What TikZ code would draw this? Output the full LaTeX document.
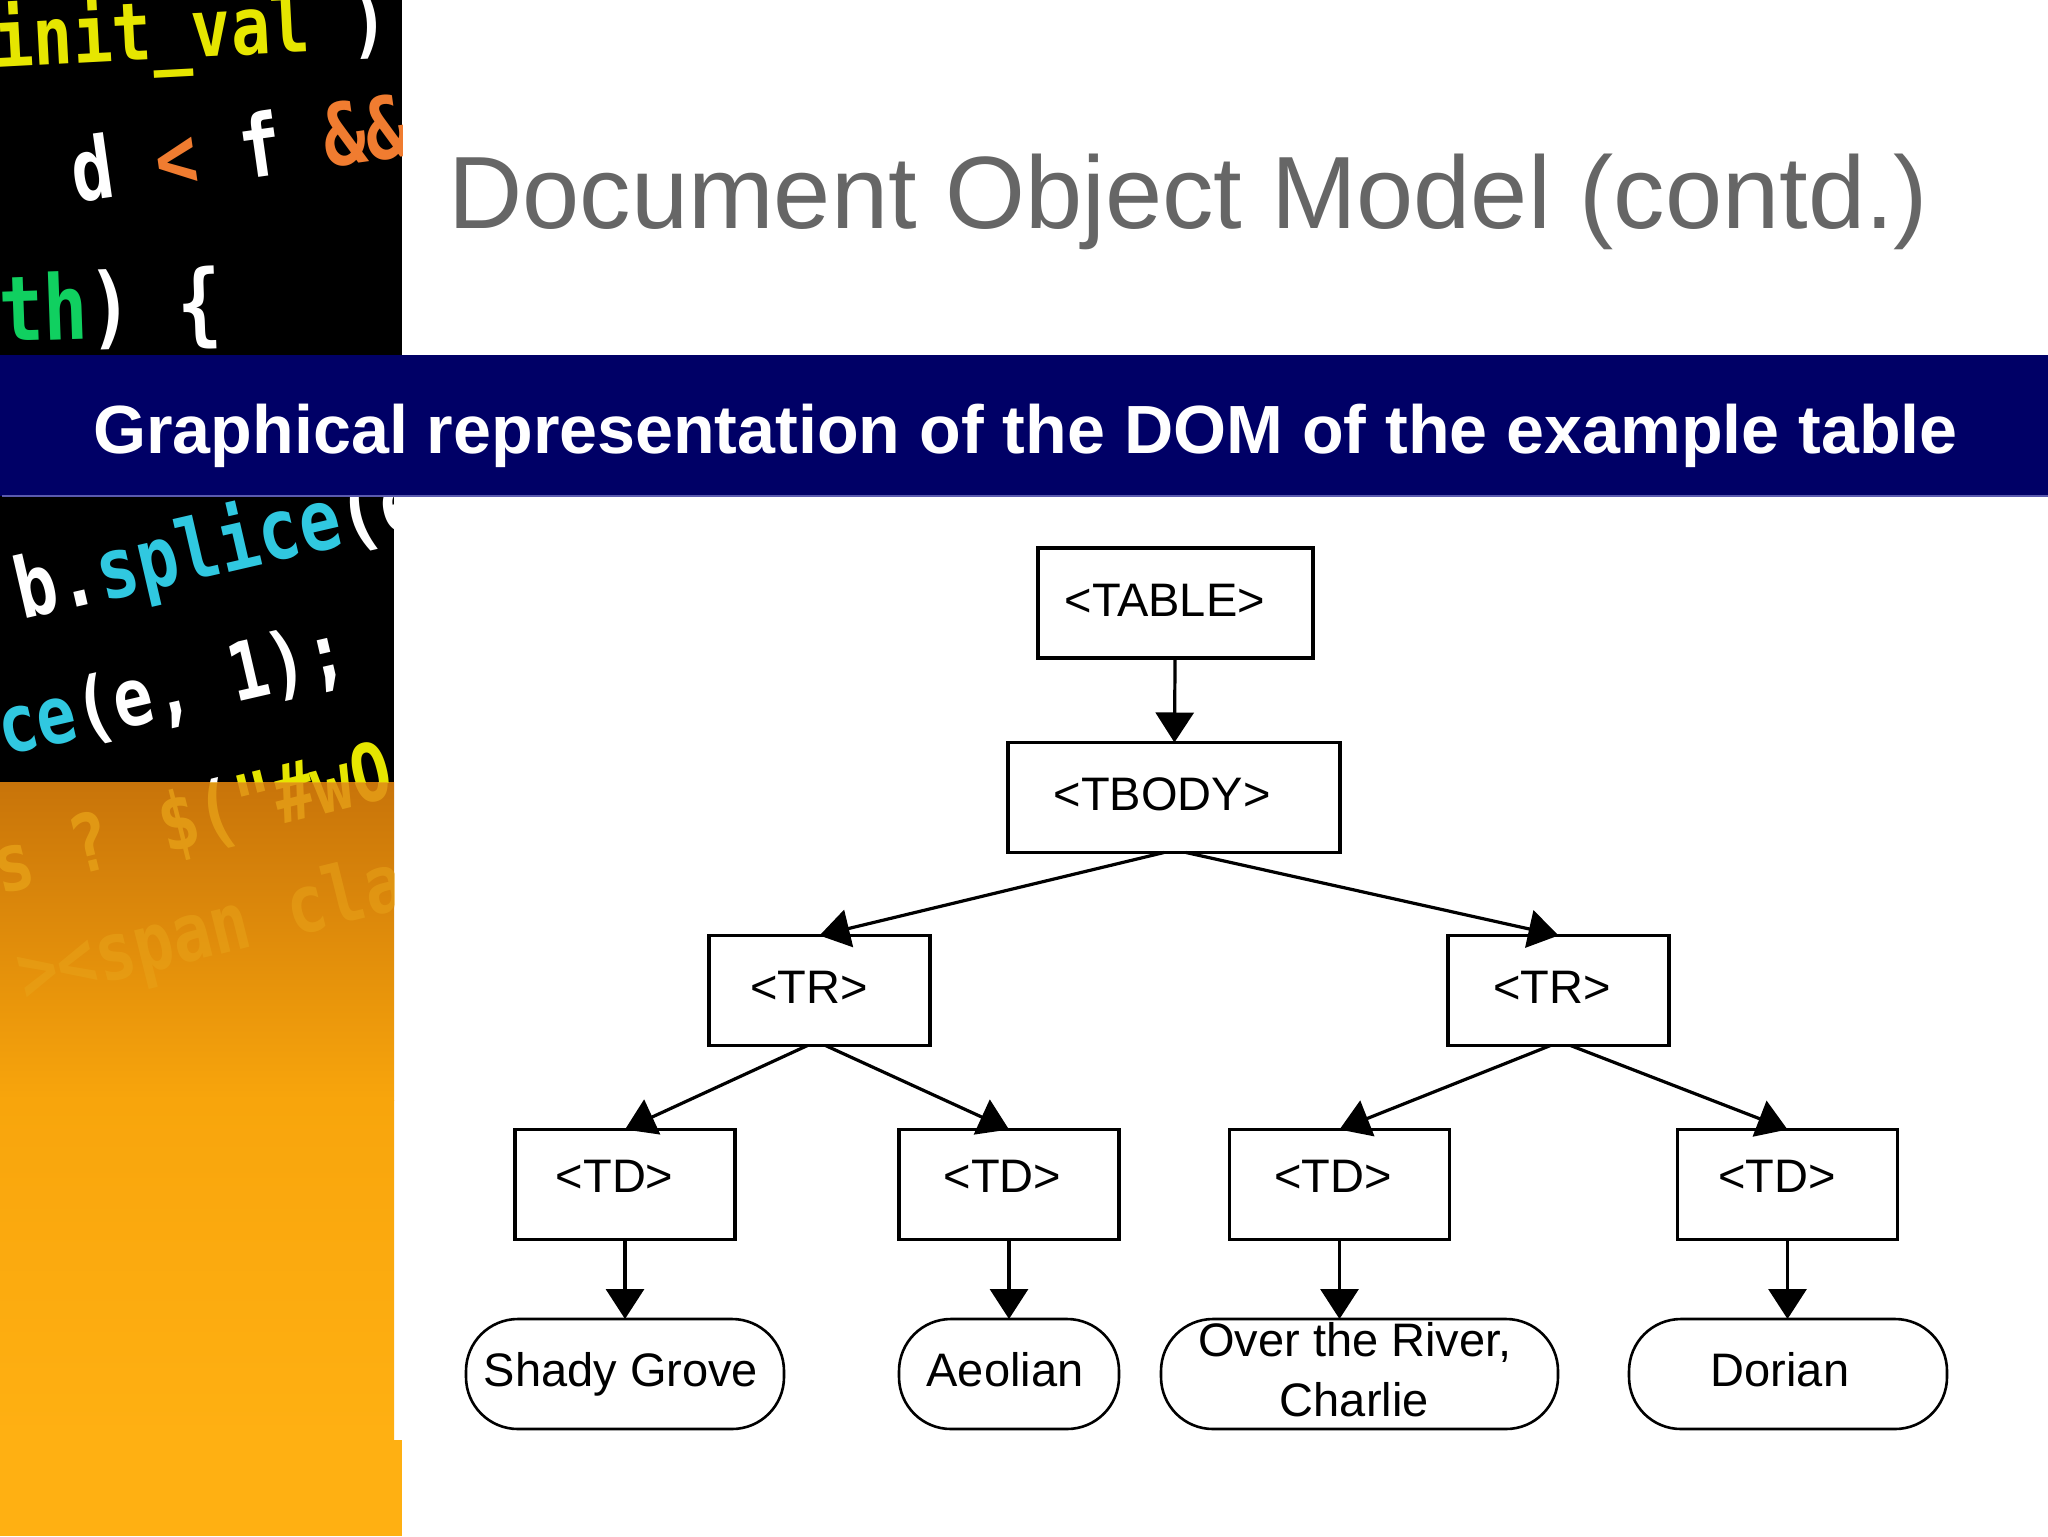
\documentclass[tikz,border=0pt]{standalone}
\usepackage{fontspec}
\setmainfont{Liberation Sans}
\newfontfamily\codefont[FakeStretch=0.82]{DejaVu Sans Mono}
\usetikzlibrary{arrows.meta}
\definecolor{bandblue}{HTML}{000066}
\definecolor{bandline}{HTML}{5A5AAE}
\definecolor{titlegray}{HTML}{666666}
\definecolor{codeyellow}{HTML}{E6E600}
\definecolor{codegreen}{HTML}{10D060}
\definecolor{codecyan}{HTML}{30C8E0}
\definecolor{codeorange}{HTML}{F07C30}
\definecolor{fadetext}{HTML}{E8A318}
\definecolor{orangea}{HTML}{C8740A}
\definecolor{orangeb}{HTML}{F8A50C}
\definecolor{orangec}{HTML}{FFB012}
\newcommand{\nudged}[3]{\hspace*{#1}\makebox[0pt]{\raisebox{#2}[0pt][0pt]{#3}}\hspace*{-#1}}
\begin{document}
\begin{tikzpicture}[x=.5pt,y=-.5pt,
tagbox/.style={%
draw,
fill=white,
line width=1.7pt,
outer sep=0pt,
minimum height=55pt,
font=\fontsize{23.5}{26}\selectfont,
},
leaf/.style={%
tagbox,
line width=1.3pt,
rounded corners=26pt,
},
link/.style={%
line width=1.6pt,
-{Triangle[length=15pt,width=19pt]},
},
code/.style={%
anchor=base west,
inner sep=0pt,
font=\codefont\bfseries\fontsize{#1}{#1}\selectfont,
},
]
\useasboundingbox(0,0)rectangle(2048,1536);
\fill[white](0,0)rectangle(2048,1536);
%% Side picture
\fill[black](0,0)rectangle(402,360);
\fill[black](0,490)rectangle(394,782);
\shade[top color=orangea,bottom color=orangeb](0,782)rectangle(394,1100);
\shade[top color=orangeb,bottom color=orangec](0,1100)rectangle(394,1440);
\fill[orangec](0,1440)rectangle(402,1536);
\begin{scope}
\clip(0,0)rectangle(402,355);
\node[code=40,rotate=3]at(-5,68)(line1){\textcolor{codeyellow}{init\_val} \textcolor{white}{)}};
\node[code=43,rotate=8]at(75,203)(line2){\textcolor{white}{d} \textcolor{codeorange}{<} \textcolor{white}{f} \textcolor{codeorange}{\&\&}};
\node[code=45,rotate=2]at(0,342)(line3){\textcolor{codegreen}{th}\textcolor{white}{) \{}};
\end{scope}
\begin{scope}
\clip(0,496)rectangle(394,782);
\node[code=42,rotate=13]at(22,620)(line4){\textcolor{white}{b.}\textcolor{codecyan}{splice}\textcolor{white}{(e}};
\node[code=40,rotate=13]at(4,756)(line5){\textcolor{codecyan}{ce}\textcolor{white}{(e, 1);}};
\node[code=40,rotate=14]at(0,895)(line6){\textcolor{codeorange}{s ? \$}\textcolor{white}{(}\textcolor{codeyellow}{"\#wO}};
\end{scope}
\begin{scope}
\clip(0,782)rectangle(394,1100);
\node[code=40,rotate=14,text=fadetext,opacity=.75]at(0,895)(fade1){s ? \$("\#wO};
\node[code=40,rotate=14,text=fadetext,opacity=.55]at(25,1003)(fade2){><span cla};
\end{scope}
%% Title and band
\node[anchor=base west,inner sep=0pt,text=titlegray,font=\fontsize{51.4}{60}\selectfont]at(448,228)(title){Document Object Model (contd.)};
\fill[bandblue](0,355)rectangle(2048,496);
\draw[bandline,line width=1pt](2,496)--(2048,496);
\node[anchor=base west,inner sep=0pt,text=white,font=\bfseries\fontsize{34.1}{40}\selectfont]at(93,453)(band){Graphical representation of the DOM of the example table};
%% Tree
\node[tagbox,minimum width=137.5pt]at(1175.5,603)(table){\nudged{-5.4pt}{-6.5pt}{<TABLE>}};
\node[tagbox,minimum width=166pt]at(1174,797.5)(tbody){\nudged{-5.9pt}{-6.7pt}{<TBODY>}};
\node[tagbox,minimum width=110.5pt]at(819.5,990.5)(tr1){\nudged{-5.2pt}{-6.7pt}{<TR>}};
\node[tagbox,minimum width=110.5pt]at(1558.5,990.5)(tr2){\nudged{-3.3pt}{-6.7pt}{<TR>}};
\node[tagbox,minimum width=110pt]at(625,1184.5)(td1){\nudged{-5.2pt}{-4pt}{<TD>}};
\node[tagbox,minimum width=110pt]at(1009,1184.5)(td2){\nudged{-3.3pt}{-4pt}{<TD>}};
\node[tagbox,minimum width=110pt]at(1339.5,1184.5)(td3){\nudged{-3.3pt}{-4pt}{<TD>}};
\node[tagbox,minimum width=110pt]at(1787.5,1184.5)(td4){\nudged{-5.2pt}{-4pt}{<TD>}};
\node[leaf,minimum width=159pt]at(625,1374)(shady){\nudged{-2pt}{-6.3pt}{Shady Grove}};
\node[leaf,minimum width=110pt]at(1009,1374)(aeolian){\nudged{-2pt}{-6.3pt}{Aeolian}};
\node[leaf,minimum width=198.5pt]at(1359.5,1374)(river){\nudged{-2.3pt}{9pt}{Over the River,}\nudged{-2.6pt}{-21.3pt}{Charlie}};
\node[leaf,minimum width=159pt]at(1788,1374)(dorian){\nudged{-4pt}{-6.3pt}{Dorian}};
\draw[link](table)--(tbody);
\draw[link]([xshift=-5pt]tbody.south)--(tr1.north);
\draw[link]([xshift=6pt]tbody.south)--(tr2.north);
\draw[link]([xshift=-6pt]tr1.south)--(td1.north);
\draw[link]([xshift=3pt]tr1.south)--(td2.north);
\draw[link]([xshift=-4pt]tr2.south)--(td3.north);
\draw[link]([xshift=6pt]tr2.south)--(td4.north);
\draw[link](td1)--(shady);
\draw[link](td2)--(aeolian);
\draw[link](td3)--(td3|-river.north);
\draw[link](td4)--(td4|-dorian.north);
\end{tikzpicture}
\end{document}
